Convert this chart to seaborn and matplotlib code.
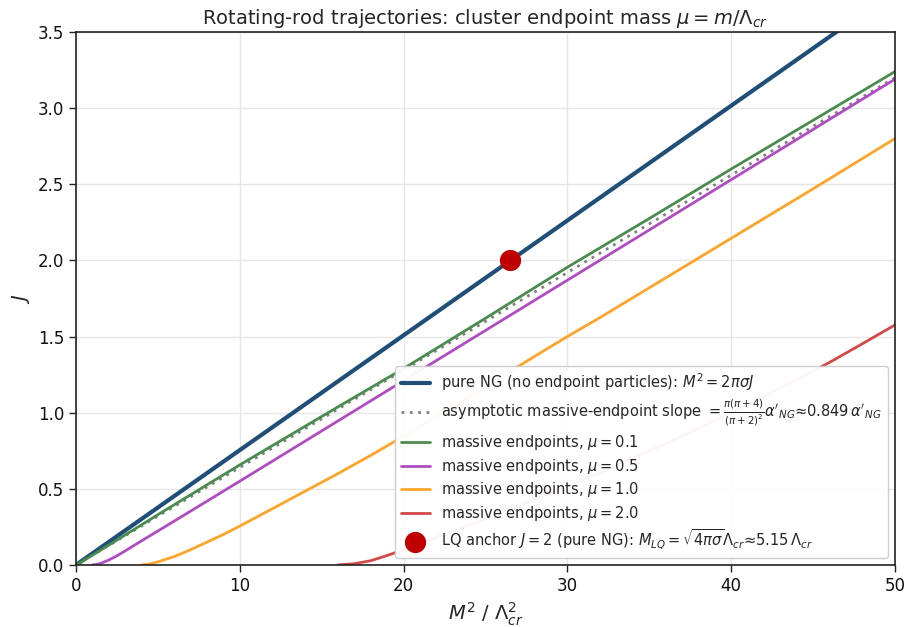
import numpy as np
import pandas as pd
import matplotlib
matplotlib.use("Agg")
import matplotlib.pyplot as plt
import seaborn as sns

# ---- data ----
ng_x = [0, 50]
ng_J = [0, 3.77]

asym_x = [0, 50]
asym_J = [0, 3.20]

mu01_x = [0.04, 2, 5, 10, 15, 20, 25, 30, 35, 40, 45, 50]
mu01_J = [0.0, 0.13, 0.33, 0.657, 0.975, 1.29, 1.62, 1.955, 2.275, 2.60, 2.92, 3.24]

mu05_x = [1, 1.25, 1.5, 2, 2.5, 3, 3.5, 4, 5, 6, 8, 10, 15, 20, 25, 30, 35, 40, 45, 50]
mu05_J = [0.0, 0.003, 0.01, 0.032, 0.06, 0.092, 0.125, 0.158, 0.223, 0.288, 0.419,
          0.55, 0.88, 1.21, 1.54, 1.87, 2.20, 2.53, 2.86, 3.19]

mu10_x = [4, 4.5, 5, 6, 7, 8, 9, 10, 12, 14, 16, 18, 20, 22, 25, 28, 30, 32, 34, 36,
          38, 40, 45, 50]
mu10_J = [0.0, 0.006, 0.02, 0.055, 0.10, 0.15, 0.20, 0.255, 0.37, 0.485, 0.60, 0.72,
          0.845, 0.975, 1.17, 1.37, 1.50, 1.625, 1.755, 1.885, 2.015, 2.145, 2.47, 2.80]

mu20_x = [16, 17, 18, 19, 20, 22, 24, 26, 28, 30, 32, 34, 36, 38, 40, 42, 44, 46, 48, 50]
mu20_J = [0.0, 0.008, 0.028, 0.062, 0.10, 0.18, 0.262, 0.345, 0.43, 0.517, 0.607, 0.70,
          0.797, 0.897, 1.00, 1.107, 1.217, 1.33, 1.452, 1.576]

anchor_x = [26.5]
anchor_J = [2.0]

x_ticks = [0, 10, 20, 30, 40, 50]
y_ticks = [0.0, 0.5, 1.0, 1.5, 2.0, 2.5, 3.0, 3.5]

title = r"Rotating-rod trajectories: cluster endpoint mass $\mu = m/\Lambda_{cr}$"
lab_ng = r"pure NG (no endpoint particles): $M^2 = 2\pi\sigma J$"
lab_asym = (r"asymptotic massive-endpoint slope $=\frac{\pi(\pi+4)}{(\pi+2)^2}\alpha'_{NG}$"
            r"≈$0.849\,\alpha'_{NG}$")
lab_mu = [r"massive endpoints, $\mu = 0.1$", r"massive endpoints, $\mu = 0.5$",
          r"massive endpoints, $\mu = 1.0$", r"massive endpoints, $\mu = 2.0$"]
lab_anchor = r"LQ anchor $J = 2$ (pure NG): $M_{LQ} = \sqrt{4\pi\sigma}\Lambda_{cr}$≈$5.15\,\Lambda_{cr}$"

# ---- style ----
sns.set_theme(style="ticks")
plt.rcParams["font.family"] = ["DejaVu Sans"]
plt.rcParams["mathtext.fontset"] = "dejavusans"

fig = plt.figure(figsize=(9.09, 6.27), dpi=100)
ax = fig.add_axes([0.0836, 0.099, 0.901, 0.850])

c_ng = "#1f4e79"
c_asym = "#808080"
c_mu = ["#4a8c4e", "#b04cc2", "#ffa42a", "#d44848"]
c_anchor = "#c00000"

sns.lineplot(x=ng_x, y=ng_J, ax=ax, color=c_ng, lw=3.0, label=lab_ng)
sns.lineplot(x=asym_x, y=asym_J, ax=ax, color=c_asym, lw=2.0, linestyle=(0, (1, 2)),
             label=lab_asym)
for xs, ys, c, lab in zip([mu01_x, mu05_x, mu10_x, mu20_x],
                          [mu01_J, mu05_J, mu10_J, mu20_J], c_mu, lab_mu):
    sns.lineplot(x=xs, y=ys, ax=ax, color=c, lw=2.0, label=lab, sort=True)
sns.scatterplot(x=anchor_x, y=anchor_J, ax=ax, color=c_anchor, s=200, zorder=5,
                edgecolor=c_anchor, label=lab_anchor)

ax.set_xlim(0, 50)
ax.set_ylim(0, 3.5)
ax.set_xticks(x_ticks)
ax.set_yticks(y_ticks)
ax.set_xticklabels([str(t) for t in x_ticks], fontsize=12)
ax.set_yticklabels([f"{t:.1f}" for t in y_ticks], fontsize=12)
ax.grid(True, color="#e6e6e6", lw=1.0)
ax.set_axisbelow(True)
for s in ax.spines.values():
    s.set_visible(True)
    s.set_color("#222222")
    s.set_linewidth(1.2)
ax.tick_params(axis="both", direction="out", length=5, width=1.0, color="#222222",
               labelcolor="#111111")

ax.set_xlabel(r"$M^2$ / $\Lambda_{cr}^2$", fontsize=14)
ax.set_ylabel(r"$J$", fontsize=14)
ax.set_title(title, fontsize=14)

leg = ax.legend(loc="lower right", fontsize=10.5, frameon=True, framealpha=0.95,
                edgecolor="#cccccc", borderaxespad=0.5, handlelength=2.0,
                labelspacing=0.32)

fig.savefig("out.png", dpi=100)
